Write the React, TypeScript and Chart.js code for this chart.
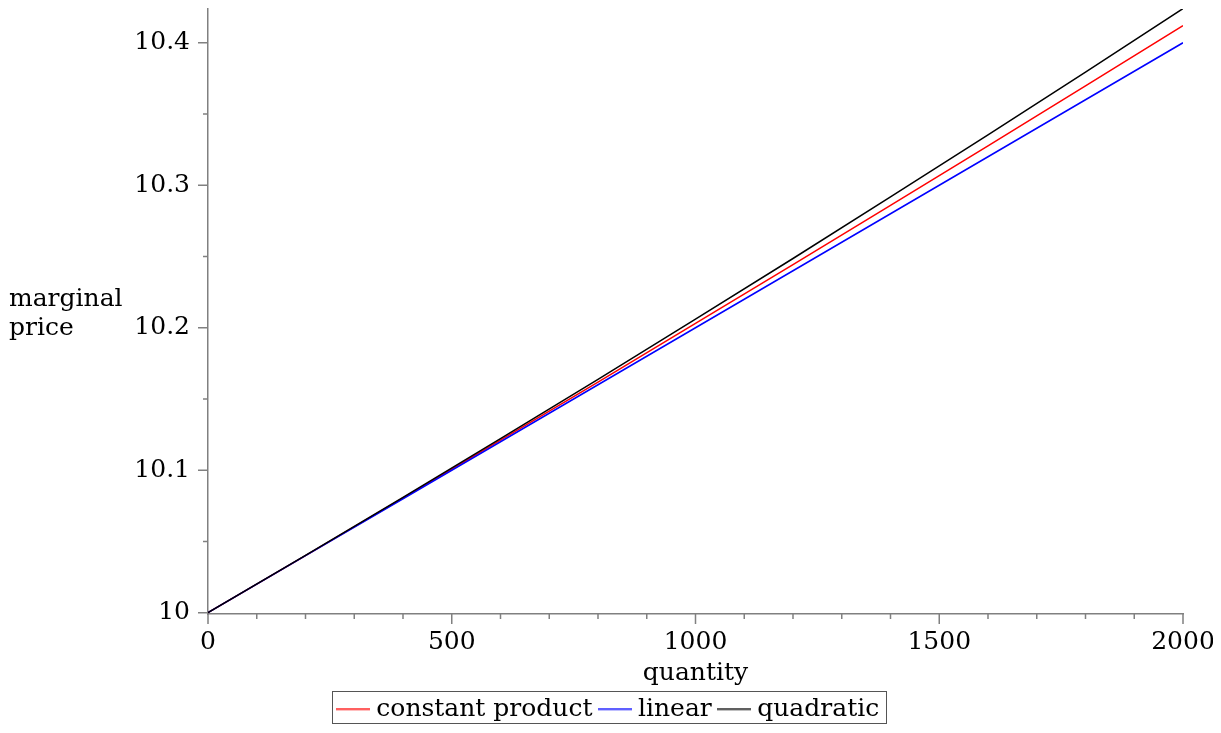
import React, { useEffect, useRef } from 'react';
import { Chart, registerables } from 'chart.js';

Chart.register(...registerables);

// ---- data ----
const quantities = [0, 200, 400, 600, 800, 1000, 1200, 1400, 1600, 1800, 2000];
const constantProduct = [10, 10.0401, 10.0805, 10.1211, 10.1619, 10.203, 10.2443, 10.2859, 10.3277, 10.3697, 10.412];
const linear = [10, 10.04, 10.08, 10.12, 10.16, 10.2, 10.24, 10.28, 10.32, 10.36, 10.4];
const quadratic = [10, 10.0402, 10.081, 10.1222, 10.1638, 10.206, 10.2486, 10.2918, 10.3354, 10.3794, 10.424];

const seriesNames = ['constant product', 'linear', 'quadratic'];
const seriesColors = ['#ff0000', '#0000ff', '#000000'];

const xMajorTicks = [0, 500, 1000, 1500, 2000];
const xMinorTicks = [100, 200, 300, 400, 600, 700, 800, 900, 1100, 1200, 1300, 1400, 1600, 1700, 1800, 1900];
const yMajorTicks = [10, 10.1, 10.2, 10.3, 10.4];
const yTickLabels = ['10', '10.1', '10.2', '10.3', '10.4'];
const yMinorTicks = [10.05, 10.15, 10.25, 10.35];

const xTitle = 'quantity';
const yTitleLines = ['marginal', 'price'];

const FONT = 'DejaVu Serif';
const FONT_SIZE = 25;
const AXIS_COLOR = '#808080';

const LEGEND_PAD = 12;
const LEGEND_BOX = 21;
const LEGEND_LINE = 34;

function legendLine(color: string) {
  const c = document.createElement('canvas');
  c.width = LEGEND_LINE;
  c.height = 3;
  const g = c.getContext('2d')!;
  g.strokeStyle = color;
  g.lineWidth = 1.5;
  g.beginPath();
  g.moveTo(0, 1.5);
  g.lineTo(LEGEND_LINE, 1.5);
  g.stroke();
  return c;
}

const tickMarksPlugin = {
  id: 'tickMarks',
  afterDraw(chart: any) {
    const { ctx } = chart;
    const xs = chart.scales.x;
    const ys = chart.scales.y;
    const axisY = chart.chartArea.bottom;
    const axisX = chart.chartArea.left;
    ctx.save();
    ctx.strokeStyle = AXIS_COLOR;
    ctx.lineWidth = 1.5;
    ctx.beginPath();
    xMajorTicks.forEach((v) => {
      const p = xs.getPixelForValue(v);
      ctx.moveTo(p, axisY);
      ctx.lineTo(p, axisY + 10);
    });
    xMinorTicks.forEach((v) => {
      const p = xs.getPixelForValue(v);
      ctx.moveTo(p, axisY);
      ctx.lineTo(p, axisY + 5);
    });
    yMajorTicks.forEach((v) => {
      const p = ys.getPixelForValue(v);
      ctx.moveTo(axisX, p);
      ctx.lineTo(axisX - 10, p);
    });
    yMinorTicks.forEach((v) => {
      const p = ys.getPixelForValue(v);
      ctx.moveTo(axisX, p);
      ctx.lineTo(axisX - 5, p);
    });
    ctx.stroke();
    ctx.restore();
  },
};

const yTitlePlugin = {
  id: 'yTitleHorizontal',
  afterDraw(chart: any) {
    const { ctx } = chart;
    ctx.save();
    ctx.font = `${FONT_SIZE}px "${FONT}"`;
    ctx.fillStyle = '#000';
    ctx.textAlign = 'left';
    ctx.textBaseline = 'middle';
    ctx.fillText(yTitleLines[0], 1, 291);
    ctx.fillText(yTitleLines[1], 1, 320);
    ctx.restore();
  },
};

const legendFramePlugin = {
  id: 'legendFrame',
  afterLayout(chart: any) {
    const lg = chart.legend;
    if (lg) {
      lg.top += 6.5;
      lg.bottom += 6.5;
      lg.left += 15.5;
      lg.right += 15.5;
    }
  },
  afterDraw(chart: any) {
    const lg = chart.legend;
    if (!lg || !lg.legendHitBoxes || !lg.legendHitBoxes.length) return;
    const hb = lg.legendHitBoxes;
    const left = Math.min(...hb.map((h: any) => h.left)) - (LEGEND_LINE - LEGEND_BOX) / 2 - 4;
    const right = Math.max(...hb.map((h: any) => h.left + h.width)) + 7;
    const cy = hb[0].top + hb[0].height / 2;
    const { ctx } = chart;
    ctx.save();
    ctx.strokeStyle = '#555';
    ctx.lineWidth = 1;
    ctx.strokeRect(Math.round(left) + 0.5, Math.round(cy - 18) + 0.5, Math.round(right - left), 32);
    ctx.restore();
  },
};

export default function App() {
  const canvasRef = useRef<HTMLCanvasElement | null>(null);

  useEffect(() => {
    const canvas = canvasRef.current;
    if (!canvas) return;
    const mk = (ys: number[]) => quantities.map((q, i) => ({ x: q, y: ys[i] }));
    const series = [constantProduct, linear, quadratic];
    const orders = [2, 1, 0];
    const chart = new Chart(canvas, {
      type: 'line',
      data: {
        datasets: series.map((s, i) => ({
          label: seriesNames[i],
          data: mk(s),
          borderColor: seriesColors[i],
          backgroundColor: seriesColors[i],
          borderWidth: 1.5,
          pointRadius: 0,
          pointStyle: legendLine(seriesColors[i]),
          tension: 0,
          order: orders[i],
        })),
      },
      options: {
        responsive: false,
        animation: false,
        devicePixelRatio: 1,
        layout: { padding: { left: 0, right: 30, top: 1, bottom: 0 } },
        plugins: {
          tooltip: { enabled: false },
          title: { display: false },
          legend: {
            display: true,
            position: 'bottom',
            labels: {
              usePointStyle: true,
              pointStyleWidth: LEGEND_BOX,
              boxHeight: FONT_SIZE,
              padding: LEGEND_PAD,
              color: '#000',
              font: { family: FONT, size: FONT_SIZE },
              sort: (a: any, b: any) => a.datasetIndex - b.datasetIndex,
            },
          },
        },
        scales: {
          x: {
            type: 'linear',
            min: 0,
            max: 2000,
            grid: { display: false, drawTicks: false },
            border: { display: true, color: AXIS_COLOR, width: 1.5 },
            ticks: {
              autoSkip: false,
              maxRotation: 0,
              padding: 13,
              color: '#000',
              font: { family: FONT, size: FONT_SIZE },
              callback: (v: any) => String(v),
            },
            title: {
              display: true,
              text: xTitle,
              color: '#000',
              font: { family: FONT, size: FONT_SIZE },
              padding: { top: 0, bottom: -10 },
            },
            afterBuildTicks: (s: any) => {
              s.ticks = xMajorTicks.map((v) => ({ value: v }));
            },
            afterFit: (s: any) => {
              s.height = 64;
              s.paddingLeft = 0;
              s.paddingRight = 0;
            },
          },
          y: {
            type: 'linear',
            min: 9.9991,
            max: 10.4237,
            grid: { display: false, drawTicks: false },
            border: { display: true, color: AXIS_COLOR, width: 1.5 },
            ticks: {
              autoSkip: false,
              padding: 18,
              color: '#000',
              font: { family: FONT, size: FONT_SIZE },
              callback: (_v: any, i: number) => yTickLabels[i],
            },
            afterBuildTicks: (s: any) => {
              s.ticks = yMajorTicks.map((v) => ({ value: v }));
            },
            afterFit: (s: any) => {
              s.width = 200;
              s.paddingTop = 0;
              s.paddingBottom = 0;
            },
          },
        },
      },
      plugins: [tickMarksPlugin, yTitlePlugin, legendFramePlugin],
    } as any);
    return () => chart.destroy();
  }, []);

  return (
    <div style={{ width: 1205, height: 717 }}>
      <canvas ref={canvasRef} width={1205} height={717} style={{ display: 'block' }} />
    </div>
  );
}
